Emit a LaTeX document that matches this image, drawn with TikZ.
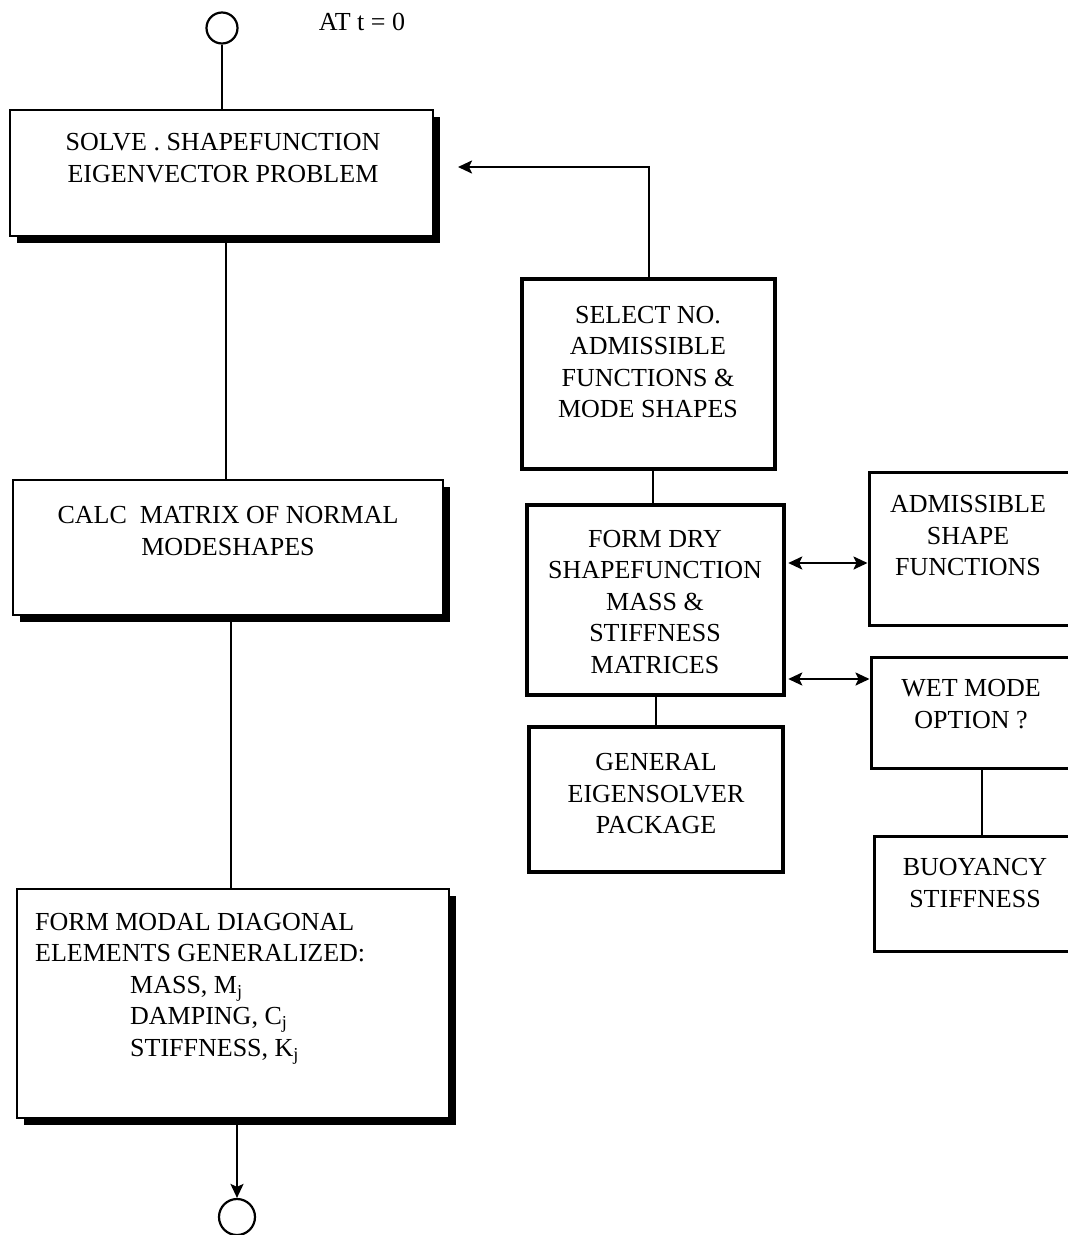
\documentclass[tikz,border=0pt]{standalone}
\usepackage{fontspec}
\setmainfont{Liberation Serif}
\usetikzlibrary{arrows.meta,shadows,fit,calc}
\begin{document}
\begin{tikzpicture}[x=1pt,y=-1pt,
  txt/.style={align=center,inner sep=0pt,font=\fontsize{26}{31.5}\selectfont},
  shadowbox/.style={draw,line width=2pt,fill=white,inner sep=0pt,
     drop shadow={shadow xshift=7pt,shadow yshift=-7pt,fill=black,opacity=1}},
  heavybox/.style={draw,line width=4.5pt,inner sep=0pt},
  sidebox/.style={draw,line width=3pt,inner sep=0pt},
  link/.style={line width=2.2pt},
  tip/.tip={Stealth[length=14pt,width=13pt,inset=3pt]},
  arr/.style={link,-tip},
  darr/.style={link,tip-tip},
  term/.style={circle,draw,line width=2.2pt,inner sep=0pt}]

\useasboundingbox (0,0) rectangle (1068,1235);

% start terminal
\node[term,minimum size=31pt] (c0) at (222,28) {};
\node[txt] (t0) at (362,22) {AT t = 0};

% main column
\node[shadowbox,fit={(10,110)(433,236)}] (b1) {};
\node[txt] (t1) at (223,158) {SOLVE . SHAPEFUNCTION\\EIGENVECTOR PROBLEM};

\node[shadowbox,fit={(13,480)(443,615)}] (b2) {};
\node[txt] (t2) at (228,531) {CALC\ \ MATRIX OF NORMAL\\MODESHAPES};

\node[shadowbox,fit={(17,889)(449,1118)}] (b4) {};
\node[txt,align=left,anchor=north west] (t4) at (35,913)
  {FORM MODAL DIAGONAL\\ELEMENTS GENERALIZED:\\
   \hspace*{95pt}MASS, M\textsubscript{j}\\
   \hspace*{95pt}DAMPING, C\textsubscript{j}\\
   \hspace*{95pt}STIFFNESS, K\textsubscript{j}};

% end terminal
\node[term,minimum size=36pt] (c1) at (237,1217) {};

% shape-function column
\node[heavybox,fit={(522,279)(775,469)}] (b3) {};
\node[txt] (t3) at (648,362) {SELECT NO.\\ADMISSIBLE\\FUNCTIONS \&\\MODE SHAPES};

\node[heavybox,fit={(527,505)(784,695)}] (b5) {};
\node[txt] (t5) at (655,602) {FORM DRY\\SHAPEFUNCTION\\MASS \&\\STIFFNESS\\MATRICES};

\node[heavybox,fit={(529,727)(783,872)}] (b6) {};
\node[txt] (t6) at (656,794) {GENERAL\\EIGENSOLVER\\PACKAGE};

% side inputs
\node[sidebox,fit={(869,472)(1085,625)}] (b7) {};
\node[txt] (t7) at (968,536) {ADMISSIBLE\\SHAPE\\FUNCTIONS};

\node[sidebox,fit={(871,657)(1085,768)}] (b8) {};
\node[txt] (t8) at (971,704) {WET MODE\\OPTION ?};

\node[sidebox,fit={(874,836)(1085,951)}] (b9) {};
\node[txt] (t9) at (975,883) {BUOYANCY\\STIFFNESS};

% spine of the main column
\coordinate (s1) at (226,0);
\coordinate (s2) at (231,0);
\draw[link] (c0) -- (c0 |- b1.north);
\draw[link] (b1.south -| s1) -- (b2.north -| s1);
\draw[link] (b2.south -| s2) -- (b4.north -| s2);
\draw[arr] (b4.south -| c1) -- (c1.north);

% feedback into the eigenvector problem
\coordinate (elbow) at (649,167);
\draw[arr] (b3.north -| elbow) -- (elbow) -- ($(b1.east |- elbow)+(24,0)$);

% right column links
\coordinate (s3) at (653,0);
\draw[link] (b3.south -| s3) -- (b5.north -| s3);
\draw[link] (b5.south -| b6.north) -- (b6.north);
\coordinate (ya) at (0,563);
\coordinate (yb) at (0,679);
\draw[darr] ($(b5.east |- ya)+(2,0)$) -- (b7.west |- ya);
\draw[darr] ($(b5.east |- yb)+(2,0)$) -- (b8.west |- yb);
\coordinate (s4) at (982,0);
\draw[link] (b8.south -| s4) -- (b9.north -| s4);
\end{tikzpicture}
\end{document}
